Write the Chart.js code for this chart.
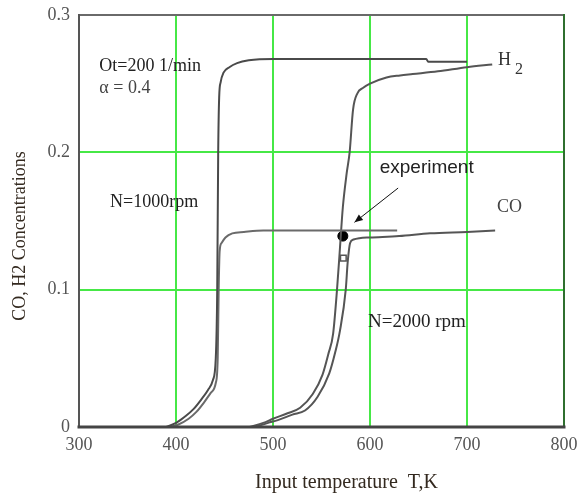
<!DOCTYPE html>
<html lang="en">
<head>
    <meta charset="UTF-8">
    <title>CO, H2 Concentrations vs Input temperature</title>
    <script src="https://cdn.jsdelivr.net/npm/chart.js"></script>
    <style>
        body { margin: 0; background: #fff; }
        #wrap { width: 580px; height: 495px; }
    </style>
</head>
<body>
    <div id="wrap">
        <canvas id="concChart" width="580" height="495"></canvas>
    </div>

    <script>
        // Curve data (T in K, concentration)
        const h2Slow_T = [390, 400, 410, 418, 426, 433, 438, 441, 442.5, 443.5, 444.5, 446, 449, 455, 463, 475, 500, 658, 660, 700];
        const h2Slow_C = [0, 0.003, 0.008, 0.013, 0.02, 0.027, 0.034, 0.05, 0.1, 0.2, 0.24, 0.251, 0.258, 0.262, 0.265, 0.267, 0.268, 0.268, 0.266, 0.266];

        const coSlow_T = [393, 403, 413, 421, 429, 436, 441, 443, 444, 445, 447, 451, 458, 470, 490, 628];
        const coSlow_C = [0, 0.002, 0.006, 0.011, 0.018, 0.025, 0.032, 0.05, 0.1, 0.128, 0.134, 0.138, 0.141, 0.142, 0.143, 0.143];

        const h2Fast_T = [476, 490, 500, 515, 528, 541, 551, 557, 562, 566, 569, 572, 576, 579, 582.5, 587, 593, 600, 617, 631, 644, 670, 700, 726];
        const h2Fast_C = [0, 0.003, 0.006, 0.01, 0.014, 0.024, 0.038, 0.053, 0.068, 0.1, 0.13, 0.16, 0.185, 0.2, 0.231, 0.243, 0.247, 0.25, 0.2545, 0.256, 0.257, 0.259, 0.262, 0.264];

        const coFast_T = [481, 495, 505, 520, 533, 546, 558, 564, 569, 575, 577, 579.5, 583, 589, 600, 630, 662, 700, 729];
        const coFast_C = [0, 0.003, 0.005, 0.009, 0.012, 0.022, 0.039, 0.054, 0.07, 0.1, 0.12, 0.134, 0.1365, 0.1375, 0.138, 0.139, 0.141, 0.142, 0.143];

        const experiment_T = [572];
        const experiment_C = [0.139];
        const marker_T = [572.5];
        const marker_C = [0.123];

        const xTicks = [300, 400, 500, 600, 700, 800];
        const yTicks = [0, 0.1, 0.2, 0.3];

        const serif = '"Liberation Serif", "DejaVu Serif", serif';
        const sans = '"Liberation Sans", Arial, sans-serif';
        const gridGreen = 'rgb(70, 232, 70)';

        function toPoints(xs, ys) {
            return xs.map((x, i) => ({ x: x, y: ys[i] }));
        }

        function curve(label, xs, ys, color) {
            return {
                label: label,
                data: toPoints(xs, ys),
                showLine: true,
                borderColor: color,
                borderWidth: 2,
                pointRadius: 0,
                cubicInterpolationMode: 'monotone',
                fill: false
            };
        }

        // Text notes placed in data coordinates
        const notes = [
            { text: 'Ot=200 1/min', x: 321, y: 0.2625, font: '18px ' + serif, color: '#222' },
            { text: '\u03b1 = 0.4', x: 321, y: 0.2465, font: '18px ' + serif, color: '#444' },
            { text: 'N=1000rpm', x: 332, y: 0.1636, font: '18px ' + serif, color: '#222' },
            { text: 'N=2000 rpm', x: 598, y: 0.0764, font: '19px ' + serif, color: '#222' },
            { text: 'CO', x: 731, y: 0.16, font: '18px ' + serif, color: '#444' },
            { text: 'experiment', x: 610, y: 0.189, font: '19px ' + sans, color: '#222' }
        ];

        const annotationsPlugin = {
            id: 'annotations',
            afterDatasetsDraw(chart) {
                const ctx = chart.ctx;
                const xs = chart.scales.x, ys = chart.scales.y;
                const area = chart.chartArea;

                // plot frame
                ctx.save();
                ctx.lineCap = 'square';
                ctx.lineWidth = 2;
                ctx.strokeStyle = '#6a6a6a';
                ctx.beginPath(); ctx.moveTo(area.left, area.top); ctx.lineTo(area.right, area.top); ctx.stroke();
                ctx.strokeStyle = '#2f6f2f';
                ctx.beginPath(); ctx.moveTo(area.right, area.top); ctx.lineTo(area.right, area.bottom); ctx.stroke();
                ctx.strokeStyle = '#555';
                ctx.beginPath(); ctx.moveTo(area.left, area.top); ctx.lineTo(area.left, area.bottom); ctx.stroke();
                ctx.lineWidth = 3;
                ctx.strokeStyle = '#444';
                ctx.beginPath(); ctx.moveTo(area.left, area.bottom); ctx.lineTo(area.right, area.bottom); ctx.stroke();
                ctx.restore();

                // notes
                ctx.save();
                ctx.textAlign = 'left';
                ctx.textBaseline = 'middle';
                notes.forEach(n => {
                    ctx.font = n.font;
                    ctx.fillStyle = n.color;
                    ctx.fillText(n.text, xs.getPixelForValue(n.x), ys.getPixelForValue(n.y));
                });

                // H2 label with subscript
                const hx = xs.getPixelForValue(732), hy = ys.getPixelForValue(0.267);
                ctx.font = '18px ' + serif;
                ctx.fillStyle = '#333';
                ctx.fillText('H', hx, hy);
                ctx.font = '16px ' + serif;
                ctx.fillText('2', hx + 17, hy + 9);

                // arrow to the experimental point
                const x1 = xs.getPixelForValue(629), y1 = ys.getPixelForValue(0.174);
                const x2 = xs.getPixelForValue(584), y2 = ys.getPixelForValue(0.149);
                const ang = Math.atan2(y2 - y1, x2 - x1);
                ctx.strokeStyle = '#111';
                ctx.fillStyle = '#111';
                ctx.lineWidth = 1;
                ctx.beginPath(); ctx.moveTo(x1, y1); ctx.lineTo(x2, y2); ctx.stroke();
                ctx.beginPath();
                ctx.moveTo(x2, y2);
                ctx.lineTo(x2 - 9 * Math.cos(ang - 0.4), y2 - 9 * Math.sin(ang - 0.4));
                ctx.lineTo(x2 - 9 * Math.cos(ang + 0.4), y2 - 9 * Math.sin(ang + 0.4));
                ctx.closePath();
                ctx.fill();

                // axis titles
                ctx.fillStyle = '#33291f';
                ctx.font = '20px ' + serif;
                ctx.textAlign = 'center';
                ctx.fillText('Input temperature  T,K', area.left + (area.right - area.left) / 2 + 25, area.bottom + 56);
                ctx.font = '18px ' + serif;
                ctx.translate(20, area.top + (area.bottom - area.top) / 2 + 15);
                ctx.rotate(-Math.PI / 2);
                ctx.fillText('CO, H2 Concentrations', 0, 0);
                ctx.restore();
            }
        };

        window.onload = () => {
            const ctx = document.getElementById('concChart').getContext('2d');
            new Chart(ctx, {
                type: 'scatter',
                data: {
                    datasets: [
                        curve('H2, N=1000rpm', h2Slow_T, h2Slow_C, '#4a4a4a'),
                        curve('CO, N=1000rpm', coSlow_T, coSlow_C, '#6a6a6a'),
                        curve('H2, N=2000rpm', h2Fast_T, h2Fast_C, '#555'),
                        curve('CO, N=2000rpm', coFast_T, coFast_C, '#555'),
                        {
                            label: 'experiment',
                            data: toPoints(experiment_T, experiment_C),
                            pointStyle: 'circle',
                            pointRadius: 5,
                            backgroundColor: '#000',
                            borderColor: '#000'
                        },
                        {
                            label: 'marker',
                            data: toPoints(marker_T, marker_C),
                            pointStyle: 'rect',
                            pointRadius: 4,
                            backgroundColor: '#fff',
                            borderColor: '#555',
                            borderWidth: 1.5
                        }
                    ]
                },
                options: {
                    responsive: false,
                    animation: false,
                    layout: { padding: { top: 15, right: 16, left: 0, bottom: 0 } },
                    plugins: {
                        legend: { display: false },
                        tooltip: { enabled: false }
                    },
                    scales: {
                        x: {
                            type: 'linear',
                            min: 300,
                            max: 800,
                            afterBuildTicks: s => { s.ticks = xTicks.map(v => ({ value: v })); },
                            afterFit: s => { s.height = 68; s.paddingLeft = 0; s.paddingRight = 0; },
                            border: { display: false },
                            grid: { color: gridGreen, lineWidth: 2, drawTicks: false },
                            ticks: {
                                color: '#555',
                                padding: 7,
                                font: { family: serif, size: 18 },
                                callback: v => String(v)
                            }
                        },
                        y: {
                            min: 0,
                            max: 0.3,
                            afterBuildTicks: s => { s.ticks = yTicks.map(v => ({ value: v })); },
                            afterFit: s => { s.width = 79; s.paddingTop = 0; s.paddingBottom = 0; },
                            border: { display: false },
                            grid: { color: gridGreen, lineWidth: 2, drawTicks: false },
                            ticks: {
                                color: '#555',
                                padding: 9,
                                font: { family: serif, size: 18 },
                                callback: v => (v === 0 ? '0' : v.toFixed(1))
                            }
                        }
                    }
                },
                plugins: [annotationsPlugin]
            });
        };
    </script>
</body>
</html>
